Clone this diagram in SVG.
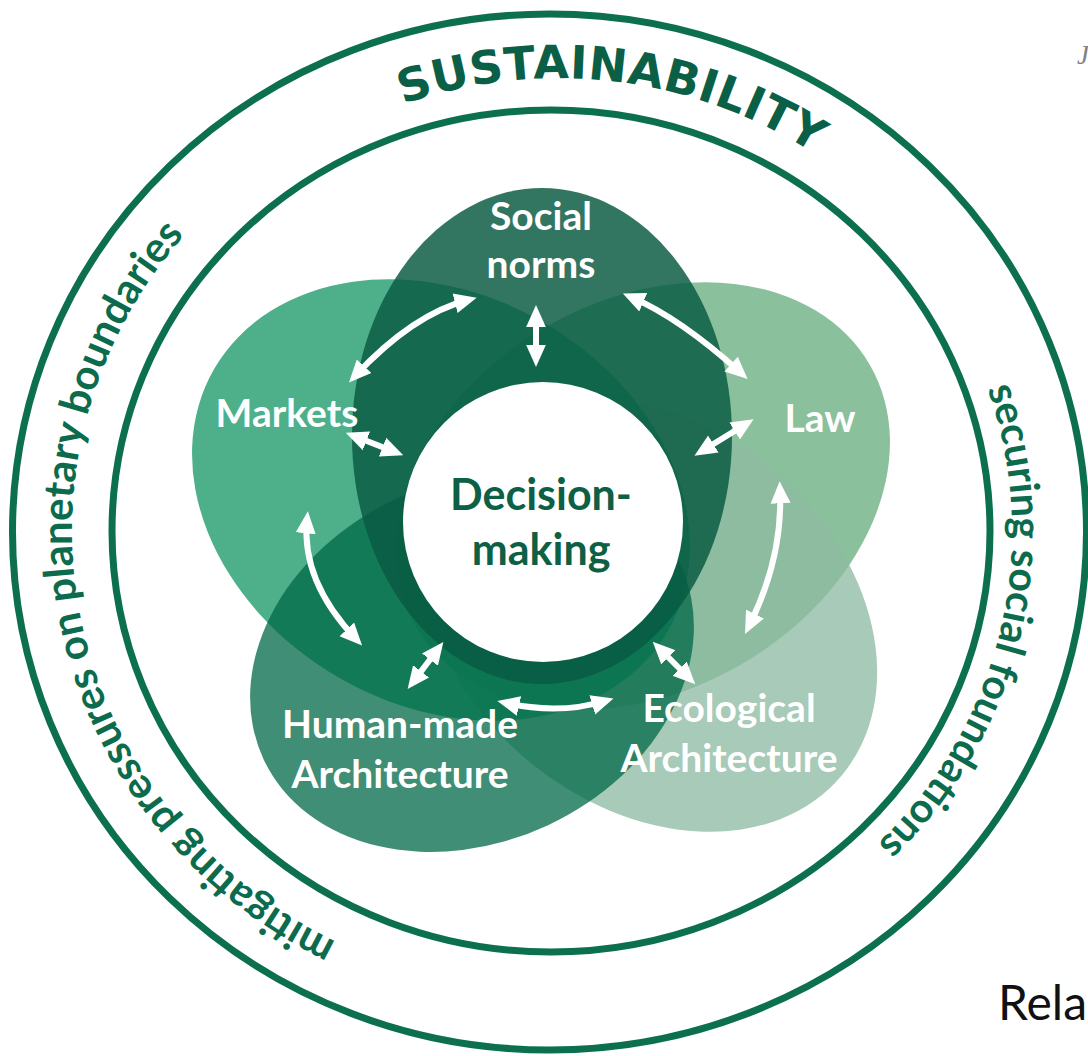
<svg xmlns="http://www.w3.org/2000/svg" width="1088" height="1056" viewBox="0 0 1088 1056">
  <style>
    .ring { fill: none; stroke: #0c7050; stroke-width: 7; }
    .arc-title { font-family: "DejaVu Sans", "Liberation Sans", sans-serif; font-weight: bold; font-size: 46px; fill: #0a5f46; letter-spacing: 0.5px; }
    .arc-side { font-family: Lato, "Open Sans", sans-serif; font-weight: bold; font-size: 41px; fill: #0c6b4c; }
    .arc-side.wide { font-size: 42px; }
    .label { font-family: Lato, "Open Sans", sans-serif; font-weight: bold; font-size: 39px; fill: #ffffff; text-anchor: middle; }
    .core { font-family: Lato, "Open Sans", sans-serif; font-weight: bold; font-size: 43px; fill: #0d5f45; text-anchor: middle; }
    .arrow { fill: none; stroke: #ffffff; stroke-width: 6; marker-start: url(#head); marker-end: url(#head); }
  </style>
  <defs>
    <!-- baselines for the curved captions -->
    <path id="arc-top" d="M86,550 A472,472 0 0 1 1030,550"/>
    <path id="arc-left" d="M550,990 A478,459 0 0 1 550,72"/>
    <path id="arc-right" d="M550,88 A462,443 0 0 1 550,974"/>
    <marker id="head" viewBox="0 0 10 10" refX="6" refY="5" markerWidth="3.7" markerHeight="3.7" orient="auto-start-reverse">
      <path d="M0,0.5 L10,5 L0,9.5 z" fill="#ffffff"/>
    </marker>
  </defs>

  <rect width="1088" height="1056" fill="#ffffff"/>

  <!-- boundary rings -->
  <g id="rings">
    <ellipse class="ring" cx="549.5" cy="532" rx="537" ry="518"/>
    <ellipse class="ring" cx="551" cy="531" rx="439" ry="421"/>
  </g>

  <!-- ring captions -->
  <g id="captions">
    <text class="arc-title"><textPath href="#arc-top" startOffset="53.8%" text-anchor="middle">SUSTAINABILITY</textPath></text>
    <text class="arc-side wide"><textPath href="#arc-left" startOffset="43.5%" text-anchor="middle">mitigating pressures on planetary boundaries</textPath></text>
    <text class="arc-side"><textPath href="#arc-right" startOffset="57.2%" text-anchor="middle">securing social foundations</textPath></text>
  </g>

  <!-- overlapping petals, back to front -->
  <g id="petals">
    <g id="law">
      <ellipse cx="0" cy="0" rx="262" ry="195" transform="translate(643,496) rotate(-30)" fill="#8bc09c"/>
    </g>
    <g id="ecological-architecture">
      <ellipse cx="0" cy="0" rx="250" ry="190" transform="translate(650,615) rotate(40)" fill="#8ebaa3" fill-opacity="0.77"/>
    </g>
    <g id="markets">
      <ellipse cx="0" cy="0" rx="262" ry="205" transform="translate(441,500) rotate(30)" fill="#139464" fill-opacity="0.75"/>
    </g>
    <g id="human-made-architecture">
      <ellipse cx="0" cy="0" rx="230" ry="180" transform="translate(472,662) rotate(-25)" fill="#006847" fill-opacity="0.75"/>
    </g>
    <g id="social-norms">
      <ellipse cx="542" cy="436" rx="190" ry="248" fill="#085a42" fill-opacity="0.83"/>
    </g>
  </g>

  <!-- centre node -->
  <g id="decision-making">
    <circle cx="543" cy="522" r="140" fill="#ffffff"/>
    <text class="core" x="541" y="510">Decision-</text>
    <text class="core" x="541" y="565">making</text>
  </g>

  <!-- two-way links -->
  <g id="connectors">
    <path class="arrow" d="M355,376 Q413,314 468,300"/>
    <path class="arrow" d="M536,314 L536,358"/>
    <path class="arrow" d="M631,297 Q680,318 741,373"/>
    <path class="arrow" d="M354,436 L395,452"/>
    <path class="arrow" d="M746,424 L702,451"/>
    <path class="arrow" d="M780,490 Q783,558 749,626"/>
    <path class="arrow" d="M307,520 Q301,581 356,639"/>
    <path class="arrow" d="M413,682 L438,649"/>
    <path class="arrow" d="M506,703 Q559,715 605,701"/>
    <path class="arrow" d="M659,648 L689,678"/>
  </g>

  <!-- petal labels -->
  <g id="labels">
    <text id="label-social-norms" class="label" x="541" y="230">Social<tspan x="541" y="278">norms</tspan></text>
    <text id="label-markets" class="label" x="287" y="427">Markets</text>
    <text id="label-law" class="label" x="820" y="432">Law</text>
    <text id="label-human-made" class="label" x="400" y="738">Human-made<tspan x="400" y="788">Architecture</tspan></text>
    <text id="label-ecological" class="label" x="729" y="722">Ecological<tspan x="729" y="772">Architecture</tspan></text>
  </g>

  <!-- fragments of surrounding page text -->
  <text x="1077" y="64" font-family="Liberation Serif, serif" font-style="italic" font-size="27" fill="#7f7f7f">J</text>
  <text x="998" y="1020" font-family="Lato, 'Open Sans', sans-serif" font-size="48" fill="#111111">Rela</text>
</svg>
